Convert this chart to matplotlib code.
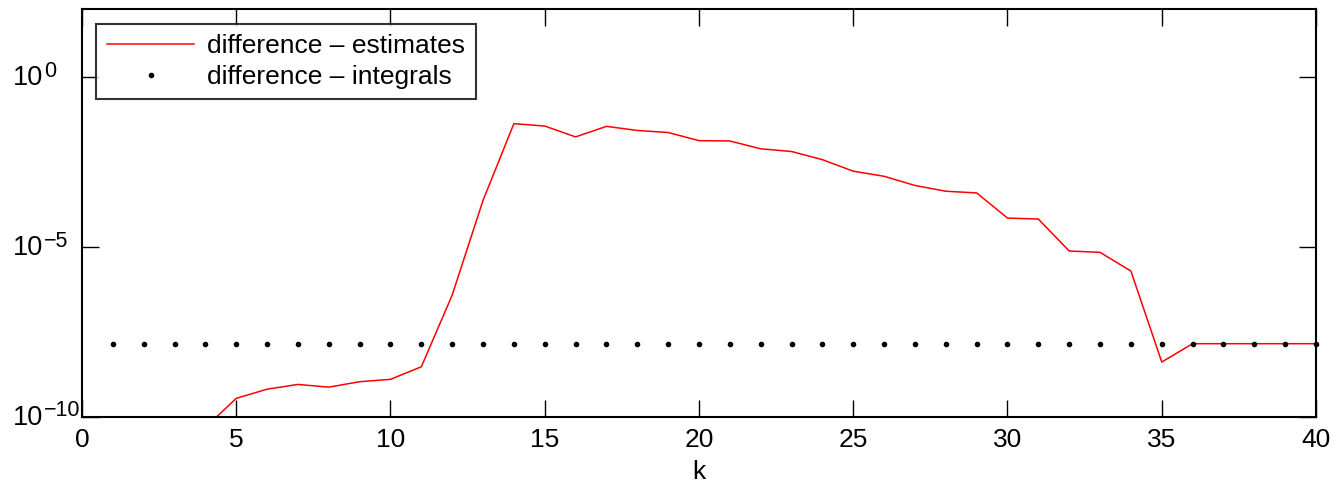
import numpy as np
import matplotlib
matplotlib.use("Agg")
import matplotlib.pyplot as plt
from matplotlib.ticker import NullLocator

plt.rcParams['font.family'] = ['Liberation Sans', 'DejaVu Sans']

# Datos (log10 de la diferencia)
k_est = np.arange(4, 41)
log_est = np.array([-10.32, -9.46, -9.19, -9.05, -9.13, -8.97, -8.90, -8.53,
                    -6.42, -3.63, -1.37, -1.44, -1.76, -1.45, -1.57, -1.63,
                    -1.87, -1.88, -2.11, -2.19, -2.43, -2.77, -2.92, -3.19,
                    -3.36, -3.41, -4.15, -4.18, -5.12, -5.16, -5.71, -8.39,
                    -7.85, -7.85, -7.85, -7.85, -7.85])
k_int = np.arange(1, 41)
log_int = np.full(len(k_int), -7.85)
y_exps = [-10, -5, 0]

fig = plt.figure(figsize=(13.37, 4.86), dpi=100)
ax = fig.add_axes([0.0613, 0.1426, 0.9230, 0.8384])

ax.semilogy(k_est, 10.0 ** log_est, color='red', lw=1.1,
            label='difference \u2013 estimates')
ax.semilogy(k_int, 10.0 ** log_int, 'k.', ms=6,
            label='difference \u2013 integrals', clip_on=False)

ax.set_xlim(0, 40)
ax.set_ylim(1e-10, 1e2)
ax.set_xticks(range(0, 41, 5))
ax.set_yticks([10.0 ** e for e in y_exps])
ax.set_yticklabels([])
ax.yaxis.set_minor_locator(NullLocator())

# etiquetas del eje y al estilo MATLAB: base "10" fija y exponente grande
trans = ax.get_yaxis_transform()
for e in y_exps:
    ax.text(-0.056, 10.0 ** e * 0.93, '10', transform=trans, fontsize=19.5,
            ha='left', va='center')
    ax.text(-0.0307, 10.0 ** e * 1.02, str(e).replace('-', '\u2212'),
            transform=trans, fontsize=15.5, ha='left', va='baseline')

ax.tick_params(direction='in', length=12, width=1, top=True, right=True,
               labelsize=19, pad=8, colors='black')
for s in ax.spines.values():
    s.set_linewidth(1.5)

ax.set_xlabel('k', fontsize=19, labelpad=6)

leg = ax.legend(loc='upper left', fontsize=19, frameon=True, fancybox=False,
                edgecolor='black', handlelength=3.3, handletextpad=0.5,
                borderaxespad=0.55, borderpad=0.4, labelspacing=0.25)
leg.get_frame().set_linewidth(1.5)

fig.savefig('out.png', dpi=100)
